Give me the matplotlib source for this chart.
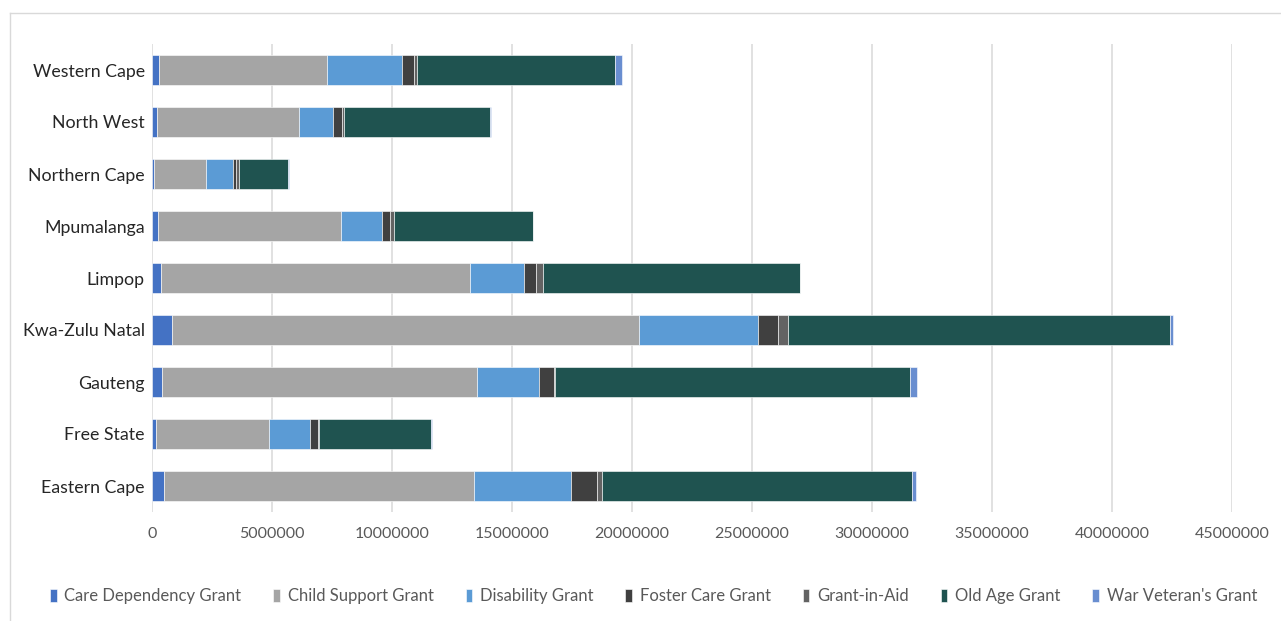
import numpy as np
import matplotlib
matplotlib.use("Agg")
import matplotlib.pyplot as plt
from matplotlib.lines import Line2D

plt.rcParams['font.family'] = ['Lato', 'DejaVu Sans']

provinces = ['Eastern Cape', 'Free State', 'Gauteng', 'Kwa-Zulu Natal', 'Limpop',
             'Mpumalanga', 'Northern Cape', 'North West', 'Western Cape']

care_dependency = [520000, 180000, 420000, 850000, 370000, 250000, 100000, 220000, 320000]
child_support = [12890000, 4690000, 13130000, 19440000, 12870000, 7620000, 2180000, 5920000, 6970000]
disability = [4040000, 1730000, 2590000, 4950000, 2250000, 1740000, 1110000, 1430000, 3140000]
foster_care = [1110000, 330000, 610000, 860000, 520000, 320000, 140000, 370000, 510000]
grant_in_aid = [190000, 40000, 50000, 400000, 290000, 150000, 90000, 90000, 110000]
old_age = [12900000, 4670000, 14770000, 15900000, 10690000, 5800000, 2050000, 6080000, 8230000]
war_veteran = [200000, 30000, 320000, 150000, 20000, 20000, 40000, 30000, 320000]

series = [
    ('Care Dependency Grant', care_dependency, '#4472C4'),
    ('Child Support Grant', child_support, '#A5A5A5'),
    ('Disability Grant', disability, '#5B9BD5'),
    ('Foster Care Grant', foster_care, '#404040'),
    ('Grant-in-Aid', grant_in_aid, '#636363'),
    ('Old Age Grant', old_age, '#1F5350'),
    ("War Veteran's Grant", war_veteran, '#698ED0'),
]

fig = plt.figure(figsize=(12.81, 6.21), dpi=100)
ax = fig.add_axes([151.7 / 1281, 1 - 512 / 621, (1232 - 151.7) / 1281, 468 / 621])

y = np.arange(len(provinces))
left = np.zeros(len(provinces))
for name, vals, col in series:
    ax.barh(y, vals, left=left, height=0.58, color=col, label=name,
            edgecolor='white', linewidth=0.4, zorder=3)
    left += np.array(vals)

ax.set_xlim(0, 45000000)
ax.set_ylim(-0.5, len(provinces) - 0.5)
ax.set_xticks(np.arange(0, 45000001, 5000000))
ax.set_xticklabels([str(v) for v in range(0, 45000001, 5000000)])
ax.set_yticks(y)
ax.set_yticklabels(provinces)
ax.grid(axis='x', color='#D9D9D9', linewidth=1.1, zorder=0)
ax.set_axisbelow(True)
for s in ax.spines.values():
    s.set_visible(False)
ax.tick_params(axis='x', length=0, pad=11, labelsize=11.5, labelcolor='#595959')
ax.tick_params(axis='y', length=0, pad=5, labelsize=12.8, labelcolor='#262626')

leg = fig.legend(loc='center', bbox_to_anchor=(0.5102, 1 - 596 / 621), ncol=7, frameon=False,
                 fontsize=12, handlelength=0.4, handleheight=0.8, handletextpad=0.45,
                 columnspacing=1.93, labelcolor='#595959')

# outer chart frame (top and left edges)
fig.add_artist(Line2D([10 / 1281, 1], [1 - 13 / 621, 1 - 13 / 621], color='#D9D9D9', linewidth=1))
fig.add_artist(Line2D([10 / 1281, 10 / 1281], [0, 1 - 13 / 621], color='#D9D9D9', linewidth=1))

fig.savefig('out.png', dpi=100)
